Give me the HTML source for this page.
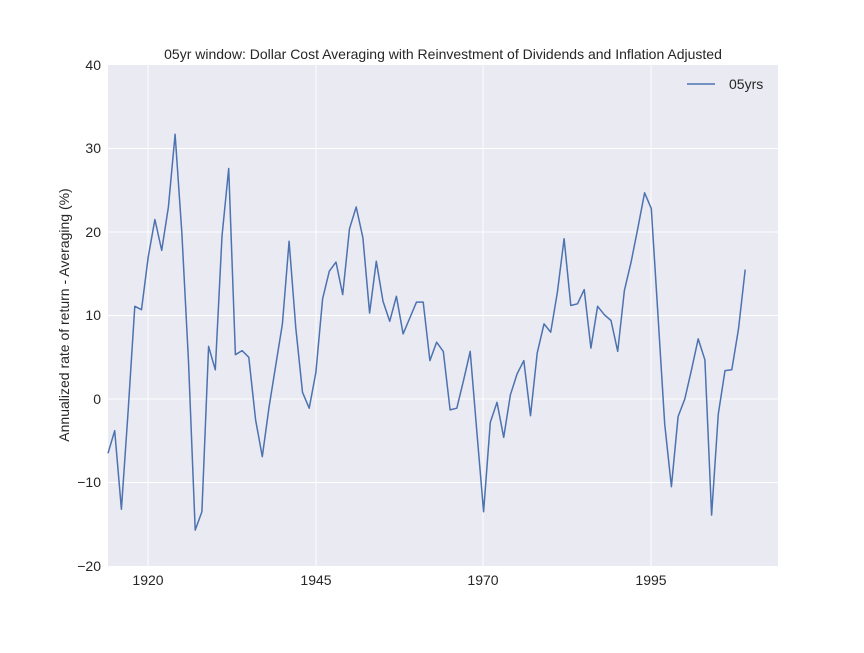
<!DOCTYPE html>
<html><head><meta charset="utf-8"><style>
body{margin:0;background:#fff;}
text{font-family:"Liberation Sans","DejaVu Sans",sans-serif;fill:#262626;}
</style></head><body>
<svg id="s" width="864" height="648" xmlns="http://www.w3.org/2000/svg">
<rect x="108" y="65" width="670" height="501" fill="#EAEAF2"/>
<g stroke="#fff" stroke-width="1">
<line x1="148" y1="65" x2="148" y2="566"/>
<line x1="316" y1="65" x2="316" y2="566"/>
<line x1="483" y1="65" x2="483" y2="566"/>
<line x1="651" y1="65" x2="651" y2="566"/>
<line x1="108" y1="148.5" x2="778" y2="148.5"/>
<line x1="108" y1="232" x2="778" y2="232"/>
<line x1="108" y1="315.5" x2="778" y2="315.5"/>
<line x1="108" y1="399" x2="778" y2="399"/>
<line x1="108" y1="482.5" x2="778" y2="482.5"/>
</g>
<g font-size="14" text-anchor="end">
<text x="101" y="70">40</text>
<text x="101" y="153">30</text>
<text x="101" y="237">20</text>
<text x="101" y="320">10</text>
<text x="101" y="404">0</text>
<text x="101" y="487">−10</text>
<text x="101" y="571">−20</text>
</g>
<g font-size="14" text-anchor="middle">
<text x="148" y="585">1920</text>
<text x="316" y="585">1945</text>
<text x="483" y="585">1970</text>
<text x="651" y="585">1995</text>
</g>
<text x="443" y="59" font-size="14" text-anchor="middle">05yr window: Dollar Cost Averaging with Reinvestment of Dividends and Inflation Adjusted</text>
<text transform="translate(69,315) rotate(-90)" font-size="14" text-anchor="middle">Annualized rate of return - Averaging (%)</text>
<polyline id="p" fill="none" stroke="#4C72B0" stroke-width="1.5" stroke-linejoin="round"/>
<line x1="687" y1="84" x2="715" y2="84" stroke="#4C72B0" stroke-width="1.5"/>
<text x="729" y="89" font-size="14">05yrs</text>
</svg>
<script>
var d=[-6.5,-3.8,-13.2,-1.5,11.1,10.7,17,21.5,17.8,23,31.7,20,4.5,-15.7,-13.5,6.3,3.5,19.5,27.6,5.3,5.8,5,-2.5,-6.9,-1,4,9,18.9,8.5,0.8,-1.1,3.2,12,15.3,16.4,12.5,20.4,23,19.3,10.3,16.5,11.7,9.3,12.3,7.8,9.7,11.6,11.6,4.6,6.8,5.7,-1.3,-1.1,2.2,5.7,-4,-13.5,-2.8,-0.4,-4.6,0.5,3,4.6,-2,5.5,9,8,12.8,19.2,11.2,11.4,13.1,6.1,11.1,10.1,9.4,5.7,13,16.4,20.5,24.7,22.8,10,-3,-10.5,-2.1,0,3.5,7.2,4.7,-13.9,-1.8,3.4,3.5,8.4,15.5];
var pts=d.map(function(v,i){return (108+i*6.707).toFixed(1)+","+(399-v*8.35).toFixed(1);}).join(" ");
document.getElementById("p").setAttribute("points",pts);
</script>
</body></html>
